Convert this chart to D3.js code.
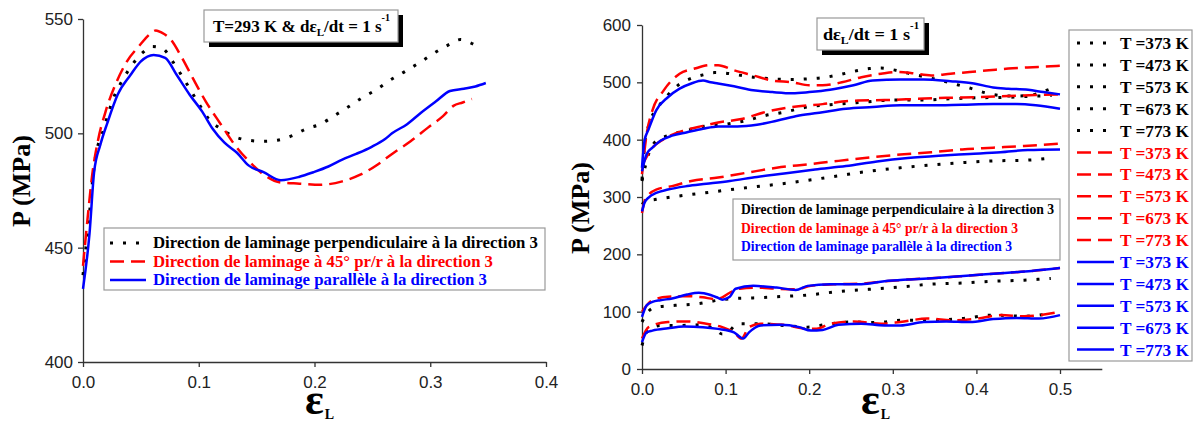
<!DOCTYPE html>
<html><head><meta charset="utf-8">
<script src="https://cdn.jsdelivr.net/npm/d3@7"></script>
<style>body{margin:0;background:#fff;} svg{display:block;}</style>
</head><body><svg id="c" width="1198" height="423"></svg>
<script>
// ---------- DATA ----------
// Left panel: T = 293 K, strain rate 1 s^-1  ([strain, P in MPa])
const leftPerp = [[0,438],[0.005,462],[0.010,487],[0.018,502],[0.026,515],[0.035,524],[0.044,531],[0.052,535.5],[0.060,538],[0.069,537],[0.078,531],[0.088,523],[0.100,513],[0.109,506],[0.119,502],[0.131,498.5],[0.143,497],[0.156,496.5],[0.168,497],[0.181,499],[0.193,502],[0.205,504],[0.218,508],[0.229,511.5],[0.241,515.5],[0.253,519],[0.266,523.5],[0.278,527],[0.291,531],[0.303,535],[0.315,538.5],[0.326,541],[0.333,540],[0.339,538.5]];
const left45 = [[0,442],[0.004,463],[0.008,482],[0.013,497],[0.0195,509.5],[0.029,522.5],[0.038,531.5],[0.049,538.5],[0.058,543.5],[0.063,545],[0.068,544],[0.075,541.5],[0.085,533.5],[0.095,524],[0.106,514],[0.119,504],[0.131,495],[0.143,488],[0.156,482],[0.171,478.5],[0.187,478],[0.205,477.5],[0.224,479],[0.240,482],[0.255,486.5],[0.267,491],[0.283,496.5],[0.298,502.5],[0.311,507.5],[0.320,512],[0.328,513.5],[0.336,515]];
const leftPar = [[0,432],[0.0056,456],[0.0096,483],[0.015,495],[0.021,504.5],[0.030,517],[0.041,525.5],[0.050,531.5],[0.061,534.3],[0.071,533],[0.081,525.5],[0.092,517],[0.103,509.5],[0.112,502],[0.122,496],[0.133,491.5],[0.143,486],[0.156,483],[0.171,479.5],[0.187,481],[0.199,483],[0.212,485.5],[0.224,488.5],[0.236,491],[0.249,494],[0.261,497.5],[0.267,500],[0.280,504],[0.292,509],[0.305,514],[0.317,518.5],[0.329,519.5],[0.339,520.5],[0.348,522]];

// Right panel: strain rate 1 s^-1, several temperatures
const perp373 = [[0,330],[0.003,390],[0.008,425],[0.019,456],[0.031,478],[0.045,497],[0.059,507],[0.073,513],[0.087,517],[0.10,516],[0.114,513],[0.133,509],[0.156,506],[0.179,505],[0.198,506],[0.216,508],[0.235,513],[0.253,519],[0.272,524],[0.286,525],[0.30,522],[0.318,516],[0.337,510],[0.355,504],[0.374,497],[0.392,490],[0.41,482],[0.429,477],[0.448,476],[0.466,478],[0.48,484],[0.489,489]];
const perp473 = [[0,328],[0.0079,375],[0.017,398],[0.031,407],[0.054,416],[0.077,424],[0.10,427],[0.124,433],[0.147,442],[0.17,448],[0.198,457],[0.225,461],[0.2625,465],[0.30,469],[0.337,469],[0.364,471],[0.40,473],[0.44,474],[0.47,476],[0.49,477]];
const perp573 = [[0,287],[0.0056,293],[0.017,296],[0.040,301],[0.068,306],[0.096,311],[0.124,316],[0.161,322],[0.198,329],[0.235,337],[0.272,345],[0.309,351],[0.346,356],[0.383,360],[0.42,363],[0.457,364],[0.489,368]];
const perp673 = [[0,82],[0.0056,97],[0.017,108],[0.040,111],[0.068,114],[0.091,120],[0.11,123],[0.133,124],[0.161,126],[0.198,129],[0.235,135],[0.272,139],[0.309,143],[0.346,148],[0.383,150],[0.42,153],[0.457,155],[0.489,158]];
const perp773 = [[0,41],[0.0056,64],[0.022,76],[0.045,76],[0.068,77],[0.087,70],[0.096,61],[0.105,67],[0.114,79],[0.1375,79],[0.17,76],[0.198,73],[0.225,79],[0.253,82],[0.281,81],[0.309,85],[0.346,85],[0.383,88],[0.42,94],[0.457,92],[0.489,97]];
const d45_373 = [[0,340],[0.0056,410],[0.0125,451],[0.026,486],[0.045,515],[0.063,524],[0.082,530],[0.091,530],[0.11,521],[0.133,512],[0.156,503],[0.18,500],[0.2,495],[0.216,495],[0.239,500],[0.2625,509],[0.286,515],[0.304,518],[0.323,516],[0.346,512],[0.369,515],[0.392,518],[0.415,521],[0.438,524],[0.461,526],[0.489,528],[0.5,529]];
const d45_473 = [[0,355],[0.0125,386],[0.026,401],[0.05,416],[0.073,424],[0.091,430],[0.119,436],[0.147,448],[0.179,457],[0.216,462],[0.253,468],[0.29,469],[0.327,471],[0.364,473],[0.40,474],[0.438,476],[0.471,478],[0.5,479]];
const d45_573 = [[0,272],[0.003,293],[0.0079,304],[0.017,313],[0.036,319],[0.059,328],[0.091,334],[0.124,342],[0.161,351],[0.198,357],[0.235,363],[0.272,369],[0.309,374],[0.346,378],[0.383,383],[0.42,386],[0.457,389],[0.5,393]];
const d45_673 = [[0,100],[0.0125,120],[0.031,126],[0.054,127],[0.073,125],[0.087,122],[0.096,125],[0.105,133],[0.117,140],[0.1375,142],[0.161,140],[0.184,139],[0.202,145],[0.235,148],[0.2625,149],[0.29,153],[0.318,156],[0.355,159],[0.392,163],[0.429,167],[0.466,171],[0.5,176]];
const d45_773 = [[0,53],[0.0079,73],[0.031,82],[0.054,83],[0.077,79],[0.096,73],[0.11,64],[0.119,53],[0.128,73],[0.142,79],[0.17,77],[0.198,70],[0.209,70],[0.225,79],[0.253,83],[0.286,79],[0.309,82],[0.341,88],[0.374,85],[0.401,88],[0.429,94],[0.457,92],[0.5,100]];
const par373 = [[0,351],[0.003,398],[0.0079,418],[0.017,451],[0.031,474],[0.045,489],[0.059,498],[0.073,503],[0.082,500],[0.091,498],[0.11,493],[0.133,486],[0.156,483],[0.18,481],[0.2,483],[0.225,487],[0.253,495],[0.276,503],[0.309,505],[0.337,505],[0.369,502],[0.397,498],[0.42,491],[0.438,489],[0.462,487],[0.48,483],[0.5,479]];
const par473 = [[0,345],[0.0056,375],[0.0125,386],[0.022,398],[0.036,407],[0.054,413],[0.073,419],[0.091,423],[0.114,423],[0.1375,426],[0.161,433],[0.188,442],[0.216,448],[0.244,454],[0.276,457],[0.309,460],[0.346,460],[0.383,461],[0.42,462],[0.448,462],[0.471,460],[0.5,454]];
const par573 = [[0,275],[0.003,290],[0.0079,299],[0.017,307],[0.031,313],[0.054,319],[0.077,323],[0.105,328],[0.1375,335],[0.17,341],[0.207,348],[0.244,354],[0.281,362],[0.318,368],[0.355,372],[0.392,375],[0.429,378],[0.4616,382],[0.5,383]];
const par673 = [[0,91],[0.0056,111],[0.0125,117],[0.022,120],[0.036,123],[0.054,130],[0.068,133],[0.082,129],[0.091,124],[0.096,121],[0.105,126],[0.112,140],[0.133,145],[0.161,142],[0.184,138],[0.198,145],[0.225,148],[0.2625,148],[0.29,153],[0.318,156],[0.355,159],[0.392,163],[0.429,167],[0.466,171],[0.5,176]];
const par773 = [[0,47],[0.0056,64],[0.0125,67],[0.031,71],[0.05,74],[0.073,73],[0.091,70],[0.11,64],[0.117,56],[0.121,53],[0.128,64],[0.142,76],[0.165,77],[0.188,73],[0.202,67],[0.216,68],[0.235,77],[0.2625,79],[0.29,76],[0.309,76],[0.337,82],[0.364,83],[0.392,82],[0.42,87],[0.448,89],[0.475,88],[0.5,94]];

const leftXTicks = [0, 0.1, 0.2, 0.3, 0.4];
const leftYTicks = [400, 450, 500, 550];
const rightXTicks = [0, 0.1, 0.2, 0.3, 0.4, 0.5];
const rightYTicks = [0, 100, 200, 300, 400, 500, 600];
const directionLabels = ["Direction de laminage perpendiculaire à la direction 3",
                         "Direction de laminage à 45° pr/r à la direction 3",
                         "Direction de laminage parallèle à la direction 3"];
const tempLabels = ["T =373 K","T =473 K","T =573 K","T =673 K","T =773 K"];

// ---------- STYLES ----------
const STY = {
  perp: {color:"#000000", dash:"3 10", width:3},
  d45:  {color:"#ff0000", dash:"14 7", width:2.5},
  par:  {color:"#0000ff", dash:null, width:2.5}
};
const SERIF = "'Liberation Serif','Times New Roman',serif";
const SANS = "'Liberation Sans',Arial,sans-serif";

const svg = d3.select("#c");

function styleLine(sel, s){
  sel.attr("fill","none").attr("stroke", s.color).attr("stroke-width", s.width);
  if (s.dash) sel.attr("stroke-dasharray", s.dash);
  return sel;
}

function drawAxes(g, x, y, xMaj, xMin, yMaj, yMin, yPad){
  const ax = g.append("g").attr("transform", `translate(0,${y.range()[0]})`);
  ax.call(d3.axisBottom(x).tickValues(xMin).tickSize(3).tickSizeOuter(0).tickFormat(""));
  ax.call(d3.axisBottom(x).tickValues(xMaj).tickSize(5).tickSizeOuter(0).tickPadding(9).tickFormat(d3.format(".1f")));
  const ay = g.append("g").attr("transform", `translate(${x.range()[0]},0)`);
  ay.call(d3.axisLeft(y).tickValues(yMin).tickSize(3).tickSizeOuter(0).tickFormat(""));
  ay.call(d3.axisLeft(y).tickValues(yMaj).tickSize(5).tickSizeOuter(0).tickPadding(yPad));
  [ax, ay].forEach(a => {
    a.selectAll("path,line").attr("stroke","#333").attr("stroke-width",1.3);
    a.selectAll("text").attr("font-family", SANS).attr("font-size", 17).attr("fill","#222");
  });
}

function titleBox(x0, y0, w, h, tx, tw, parts){
  svg.append("rect").attr("x", x0+5).attr("y", y0+5).attr("width", w).attr("height", h).attr("fill","#000");
  svg.append("rect").attr("x", x0).attr("y", y0).attr("width", w).attr("height", h).attr("fill","#fff").attr("stroke","#999").attr("stroke-width",1.2);
  const t = svg.append("text").attr("x", tx).attr("y", y0 + h/2 + 6).attr("font-family", SERIF).attr("font-weight","bold").attr("font-size", 17).attr("fill","#000");
  parts.forEach(p => {
    const ts = t.append("tspan").text(p.t);
    if (p.sub) ts.attr("font-size", 11).attr("dy", 4);
    if (p.sup) ts.attr("font-size", 10).attr("dy", -11);
    if (p.back) ts.attr("dy", p.back);
  });
  t.attr("textLength", tw).attr("lengthAdjust","spacingAndGlyphs");
}

function yTitle(cx, cy){
  svg.append("text").attr("transform", `translate(${cx},${cy}) rotate(-90)`).attr("text-anchor","middle")
    .attr("dy", 9).attr("font-family", SERIF).attr("font-weight","bold").attr("font-size", 26)
    .attr("textLength", 92).attr("lengthAdjust","spacingAndGlyphs").text("P (MPa)");
}
function xTitle(x0, base){
  const t = svg.append("text").attr("x", x0).attr("y", base).attr("font-family", SERIF).attr("font-weight","bold").attr("font-size", 44).attr("fill","#000");
  t.append("tspan").text("ε");
  t.append("tspan").attr("font-size", 14).attr("dy", 5).attr("dx", 1).text("L");
}

// ---------- LEFT PANEL ----------
{
  const x = d3.scaleLinear().domain([0, 0.4]).range([83, 546]);
  const y = d3.scaleLinear().domain([400, 550]).range([362, 19]);
  const g = svg.append("g");
  drawAxes(g, x, y, leftXTicks, d3.range(0, 0.401, 0.05), leftYTicks, d3.range(400, 551, 25), 5);
  const line = d3.line().x(d => x(d[0])).y(d => y(d[1])).curve(d3.curveMonotoneX);
  styleLine(g.append("path").attr("d", line(leftPerp)), STY.perp);
  styleLine(g.append("path").attr("d", line(left45)), STY.d45);
  styleLine(g.append("path").attr("d", line(leftPar)), STY.par);

  // legend
  svg.append("rect").attr("x",104).attr("y",228).attr("width",441).attr("height",62).attr("fill","#fff").attr("stroke","#999").attr("stroke-width",1.2);
  const keys = [STY.perp, STY.d45, STY.par];
  const widths = [385, 340, 334];
  keys.forEach((s, i) => {
    const yy = 243 + i*18.5;
    styleLine(svg.append("line").attr("x1",110).attr("x2",146).attr("y1",yy).attr("y2",yy), s);
    svg.append("text").attr("x",153).attr("y",yy+5).attr("font-family",SERIF).attr("font-weight","bold").attr("font-size",16)
      .attr("fill", s.color).attr("textLength", widths[i]).attr("lengthAdjust","spacingAndGlyphs").text(directionLabels[i]);
  });

  titleBox(204, 10, 194, 32, 213, 177, [{t:"T=293 K & dε"},{t:"L",sub:true},{t:"/dt = 1 s", back:-4},{t:"-1",sup:true}]);
  yTitle(21, 181);
  xTitle(305, 414);
}

// ---------- RIGHT PANEL ----------
{
  const x = d3.scaleLinear().domain([0, 0.55]).range([642, 642 + 0.55*836]);
  const y = d3.scaleLinear().domain([0, 600]).range([369, 25]);
  const g = svg.append("g");
  drawAxes(g, x, y, rightXTicks, d3.range(0, 0.551, 0.05), rightYTicks, d3.range(0, 601, 50), 6);
  const line = d3.line().x(d => x(d[0])).y(d => y(d[1])).curve(d3.curveMonotoneX);
  const perp = [perp373, perp473, perp573, perp673, perp773];
  const d45 = [d45_373, d45_473, d45_573, d45_673, d45_773];
  const par = [par373, par473, par573, par673, par773];
  perp.forEach(s => styleLine(g.append("path").attr("d", line(s)), STY.perp));
  d45.forEach(s => styleLine(g.append("path").attr("d", line(s)), STY.d45));
  par.forEach(s => styleLine(g.append("path").attr("d", line(s)), STY.par));

  // inner legend (text only)
  svg.append("rect").attr("x",733).attr("y",199).attr("width",327).attr("height",61).attr("fill","#fff").attr("stroke","#999").attr("stroke-width",1.2);
  const cols = [STY.perp.color, STY.d45.color, STY.par.color];
  const w2 = [313, 277, 271];
  cols.forEach((c, i) => {
    svg.append("text").attr("x",741).attr("y",209 + i*18.5 + 5).attr("font-family",SERIF).attr("font-weight","bold").attr("font-size",14)
      .attr("fill", c).attr("textLength", w2[i]).attr("lengthAdjust","spacingAndGlyphs").text(directionLabels[i]);
  });

  // big legend
  svg.append("rect").attr("x",1069).attr("y",30).attr("width",123).attr("height",331).attr("fill","#fff").attr("stroke","#999").attr("stroke-width",1.2);
  const groups = [STY.perp, STY.d45, STY.par];
  groups.forEach((s, gi) => {
    tempLabels.forEach((lab, ti) => {
      const yy = 43 + (gi*5 + ti) * 21.9;
      styleLine(svg.append("line").attr("x1",1077).attr("x2",1114).attr("y1",yy).attr("y2",yy), s);
      svg.append("text").attr("x",1120).attr("y",yy+6).attr("font-family",SERIF).attr("font-weight","bold").attr("font-size",17)
        .attr("fill", s.color).attr("textLength", 69).attr("lengthAdjust","spacingAndGlyphs").text(lab);
    });
  });

  titleBox(817, 18, 107, 32, 823, 96, [{t:"dε"},{t:"L",sub:true},{t:"/dt = 1 s", back:-4},{t:"-1",sup:true}]);
  yTitle(580, 208);
  xTitle(861, 414);
}
</script>
</body></html>
